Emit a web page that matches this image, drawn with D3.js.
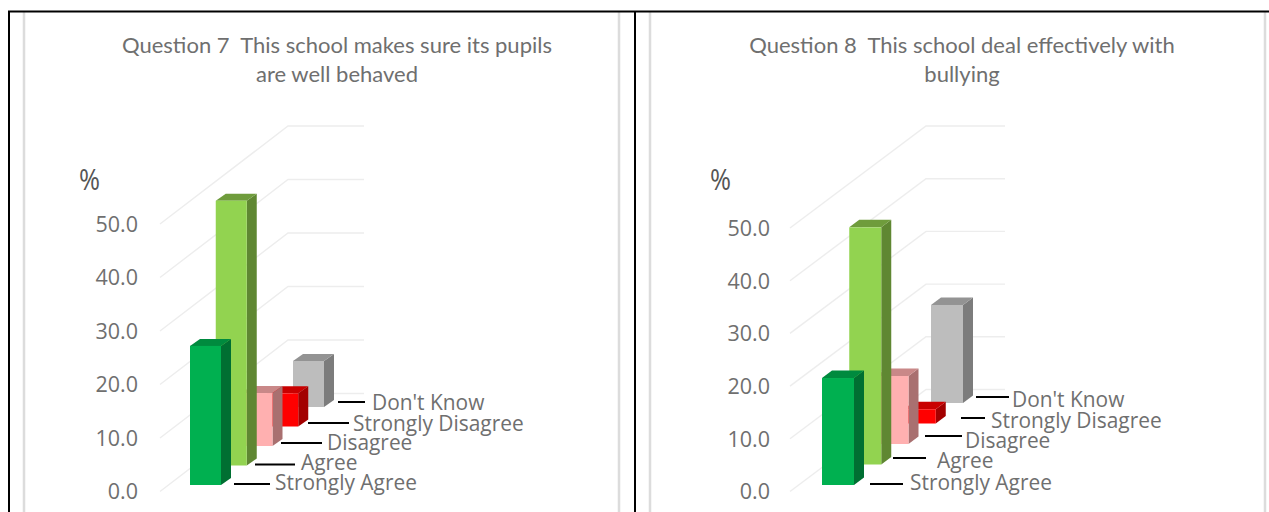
<!DOCTYPE html>
<html>
<meta charset="utf-8">
<style>
body { margin: 0; background: #fff; }
svg { display: block; }
text { font-family: "Open Sans", sans-serif; fill: #6f6f6f; }
.title { font-family: Lato, sans-serif; font-size: 22px; white-space: pre; }
.axis text { font-size: 21.5px; }
.axis path, .axis line { display: none; }
.cat { font-size: 20.9px; }
.grid { fill: none; stroke: #ededed; stroke-width: 1.4; }
.leader { stroke: #000; stroke-width: 2; }
</style>
<body>
<div id="chart"></div>
<script src="https://d3js.org/d3.v7.min.js"></script>
<script>
var categories = ["Strongly Agree", "Agree", "Disagree", "Strongly Disagree", "Don't Know"];
var q7Values = [26.0, 49.5, 9.9, 6.2, 8.6];
var q8Values = [20.3, 45.0, 12.9, 2.7, 18.6];
var axisTicks = [0, 10, 20, 30, 40, 50];
var q7Title = ["Question 7  This school makes sure its pupils", "are well behaved"];
var q8Title = ["Question 8  This school deal effectively with", "bullying"];
var colors = {
  "Strongly Agree": ["#00b050", "#006f32", "#008a3e"],
  "Agree": ["#92d350", "#5f8732", "#6f9c3c"],
  "Disagree": ["#ffb0b0", "#a97070", "#c98888"],
  "Strongly Disagree": ["#ff0000", "#a30000", "#c90000"],
  "Don't Know": ["#bdbdbd", "#7c7c7c", "#939393"]
};

var svg = d3.select("#chart").append("svg")
    .attr("width", 1269)
    .attr("height", 512);

// grey chart frames, then the black table rules on top
[[24, 619], [650, 1265]].forEach(function(p) {
  p.forEach(function(x) {
    svg.append("line").attr("x1", x).attr("x2", x).attr("y1", 12).attr("y2", 512)
        .attr("stroke", "#dcdcdc").attr("stroke-width", 2.5);
  });
});
svg.append("line").attr("x1", 8).attr("x2", 1269).attr("y1", 11.5).attr("y2", 11.5)
    .attr("stroke", "#000").attr("stroke-width", 2);
[9, 635].forEach(function(x) {
  svg.append("line").attr("x1", x).attr("x2", x).attr("y1", 11).attr("y2", 512)
      .attr("stroke", "#000").attr("stroke-width", 2);
});

function drawChart(opt) {
  var g = svg.append("g");

  g.selectAll("text.title").data(opt.title).join("text")
      .attr("class", "title")
      .attr("x", opt.titleX)
      .attr("y", function(d, i) { return 53 + i * 29; })
      .attr("text-anchor", "middle")
      .text(function(d) { return d; });

  // value -> screen y on the front edge of the floor
  var y = d3.scaleLinear().domain([0, 50]).range(opt.yRange);
  // depth position of each category
  var barX = d3.scalePoint().domain(categories).range(opt.barX);
  var barBase = d3.scalePoint().domain(categories).range(opt.barBase);
  var h = function(v) { return y(0) - y(v); };

  // walls
  g.selectAll("path.grid").data(axisTicks).join("path")
      .attr("class", "grid")
      .attr("d", function(d) {
        var p = d3.path();
        p.moveTo(opt.wall[0], y(d));
        p.lineTo(opt.wall[1], y(d) - opt.depth);
        p.lineTo(opt.wall[2], y(d) - opt.depth);
        return p.toString();
      });

  g.append("g").attr("class", "axis")
      .attr("transform", "translate(" + opt.axisX + ",0.5)")
      .call(d3.axisLeft(y).tickValues(axisTicks).tickSize(0).tickPadding(0)
        .tickFormat(d3.format(".1f")));

  g.append("text")
      .attr("x", opt.pctX).attr("y", 190)
      .attr("textLength", 21).attr("lengthAdjust", "spacingAndGlyphs")
      .style("font-size", "29px").style("fill", "#555")
      .text("%");

  // leader lines + category labels
  g.selectAll("line.leader").data(categories).join("line")
      .attr("class", "leader")
      .attr("x1", function(d, i) { return opt.leaders[i][0]; })
      .attr("x2", function(d, i) { return opt.leaders[i][1]; })
      .attr("y1", function(d, i) { return opt.leaders[i][2]; })
      .attr("y2", function(d, i) { return opt.leaders[i][2]; });
  g.selectAll("text.cat").data(categories).join("text")
      .attr("class", "cat")
      .attr("x", function(d, i) { return opt.labels[i][0]; })
      .attr("y", function(d, i) { return opt.labels[i][1]; })
      .text(function(d) { return d; });

  // back to front so nearer bars cover further ones
  var bars = g.selectAll("g.bar")
      .data(categories.map(function(c, i) { return { c: c, v: opt.values[i] }; }).reverse())
      .join("g").attr("class", "bar");

  bars.append("path").attr("fill", function(d) { return colors[d.c][1]; })
      .attr("d", function(d) {
        var x = barX(d.c) + opt.barW, b = barBase(d.c), t = b - h(d.v);
        return "M" + [x, b] + "L" + [x + opt.sx, b - opt.sy] + "L" + [x + opt.sx, t - opt.sy] + "L" + [x, t] + "Z";
      });
  bars.append("path").attr("fill", function(d) { return colors[d.c][2]; })
      .attr("d", function(d) {
        var x = barX(d.c), t = barBase(d.c) - h(d.v);
        return "M" + [x, t] + "L" + [x + opt.sx, t - opt.sy] + "L" + [x + opt.barW + opt.sx, t - opt.sy] + "L" + [x + opt.barW, t] + "Z";
      });
  bars.append("rect").attr("fill", function(d) { return colors[d.c][0]; })
      .attr("x", function(d) { return barX(d.c); })
      .attr("y", function(d) { return barBase(d.c) - h(d.v); })
      .attr("width", opt.barW)
      .attr("height", function(d) { return h(d.v); });
}

drawChart({
  title: q7Title, titleX: 337, values: q7Values,
  yRange: [491.5, 224], wall: [160, 288, 364], depth: 98, axisX: 138, pctX: 79,
  barX: [190, 293], barBase: [485, 407], barW: 31, sx: 10, sy: 7,
  leaders: [[234, 270, 484], [255, 295, 464.5], [281, 322, 443], [308, 349, 423], [338, 365, 402]],
  labels: [[275, 490], [301, 470], [327, 450], [353, 431], [372, 410]]
});
drawChart({
  title: q8Title, titleX: 962, values: q8Values,
  yRange: [491.5, 228], wall: [790, 926, 1005], depth: 102, axisX: 770, pctX: 710,
  barX: [822, 931], barBase: [485, 403], barW: 32, sx: 10, sy: 7.5,
  leaders: [[870, 903, 484], [893, 926, 458], [925, 962, 436], [961, 985, 418], [976, 1009, 397]],
  labels: [[910, 490], [937, 468], [965, 448], [991, 428], [1012, 407]]
});
</script>
</body>
</html>
